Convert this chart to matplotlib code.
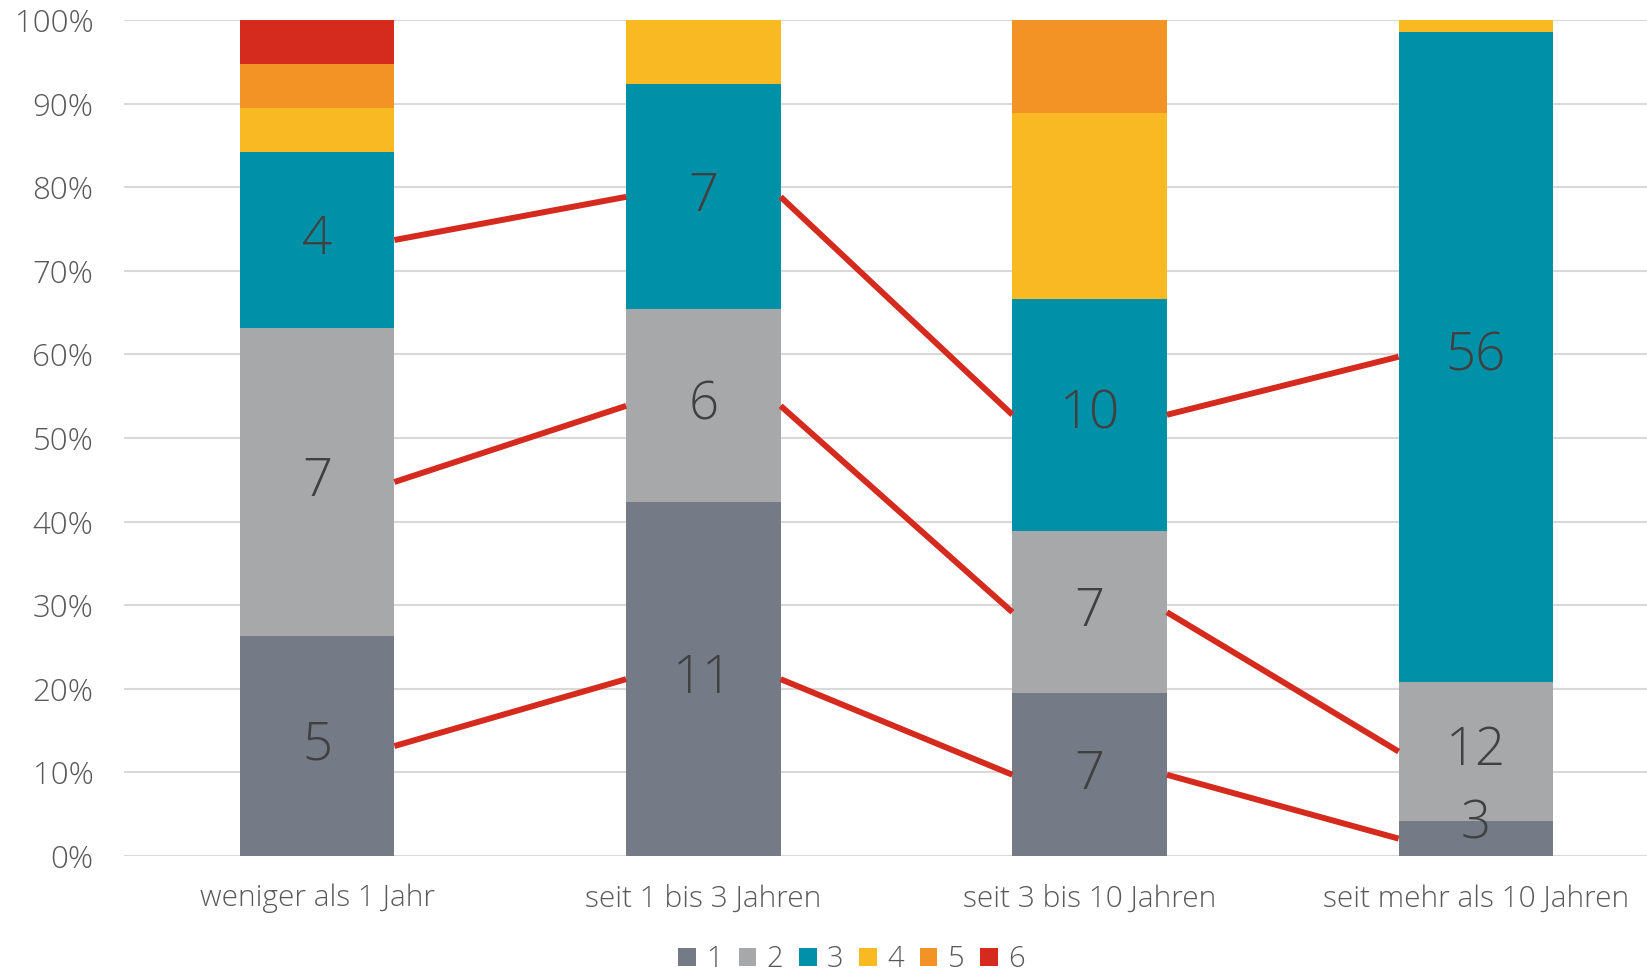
import numpy as np
import matplotlib
matplotlib.use("Agg")
import matplotlib.pyplot as plt
from matplotlib.patches import Patch
from matplotlib import font_manager

plt.rcParams["font.family"] = ["Open Sans", "DejaVu Sans"]
plt.rcParams["font.weight"] = "light"

categories = ["weniger als 1 Jahr", "seit 1 bis 3 Jahren", "seit 3 bis 10 Jahren", "seit mehr als 10 Jahren"]
series_names = ["1", "2", "3", "4", "5", "6"]
# counts per series (rows) and category (columns)
s1 = [5, 11, 7, 3]
s2 = [7, 6, 7, 12]
s3 = [4, 7, 10, 56]
s4 = [1, 2, 8, 1]
s5 = [1, 0, 4, 0]
s6 = [1, 0, 0, 0]
labelled_series = [0, 1, 2]  # only these get numbers and connector lines

colors = ["#747b86", "#a7a8aa", "#0090a8", "#f9b923", "#f39325", "#d52b1e"]
text_col = "#595959"
label_col = "#404040"

counts = np.array([s1, s2, s3, s4, s5, s6], dtype=float)
shares = counts / counts.sum(axis=0)
bottoms = np.vstack([np.zeros(len(categories)), np.cumsum(shares, axis=0)[:-1]])
mids = bottoms + shares / 2

x = np.arange(len(categories))
width = 0.4

fig = plt.figure(figsize=(16.47, 9.71), dpi=100)
ax = fig.add_axes([0.0753, 0.1184, 0.9247, 0.861])

for i in range(len(series_names)):
    ax.bar(x, shares[i], width, bottom=bottoms[i], color=colors[i], zorder=2, linewidth=0)

# connector lines between segment centres
for i in labelled_series:
    for j in range(len(categories) - 1):
        ax.plot([x[j] + width / 2, x[j + 1] - width / 2], [mids[i, j], mids[i, j + 1]],
                color="#d52b1e", lw=4.3, solid_capstyle="butt", zorder=3)

# value labels
for i in labelled_series:
    for j in range(len(categories)):
        ypos = max(mids[i, j], 0.038)
        ax.text(x[j], ypos, f"{int(counts[i, j])}", ha="center", va="center",
                fontsize=38, color=label_col, zorder=4)

ax.set_xlim(-0.5, 3.443)
ax.set_ylim(0, 1)
ax.set_yticks(np.linspace(0, 1, 11))
ax.set_yticklabels([f"{v}%" for v in range(0, 101, 10)], fontsize=22.5, color=text_col)
ax.set_xticks(x)
ax.set_xticklabels(categories, fontsize=21.5, color=text_col)
ax.tick_params(length=0)
ax.tick_params(axis="y", pad=22)
ax.tick_params(axis="x", pad=20)
ax.yaxis.grid(True, color="#d9d9d9", lw=1.5, zorder=0)
ax.set_axisbelow(True)
for sp in ax.spines.values():
    sp.set_visible(False)

handles = [Patch(facecolor=c, edgecolor="none") for c in colors]
fig.legend(handles, series_names, loc="center", bbox_to_anchor=(0.517, 0.012), ncol=6,
           frameon=False, fontsize=21, labelcolor=text_col, handlelength=0.6, handleheight=0.6,
           handletextpad=0.35, columnspacing=0.55, borderpad=0)

fig.savefig("out.png", dpi=100)
